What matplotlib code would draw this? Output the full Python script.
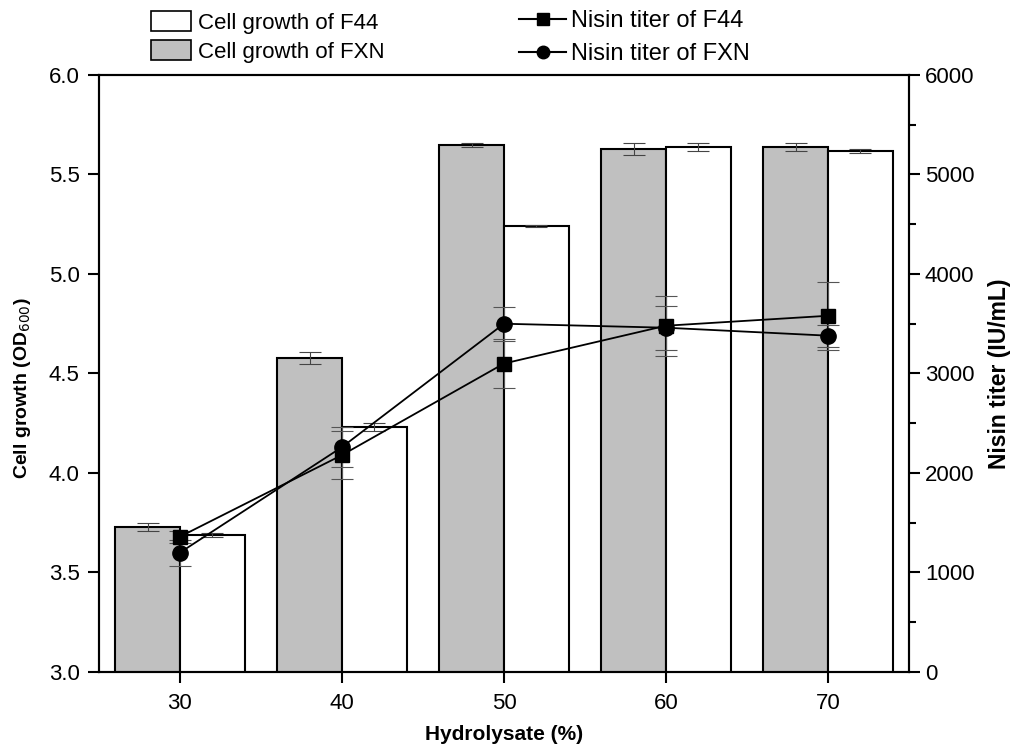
import numpy as np
import matplotlib.pyplot as plt
from matplotlib.ticker import MultipleLocator
from matplotlib.patches import Patch
from matplotlib.lines import Line2D

plt.rcParams['font.family'] = ['Liberation Sans', 'DejaVu Sans']

hydrolysate = [30, 40, 50, 60, 70]

# cell growth (OD600)
od_fxn = [3.73, 4.58, 5.65, 5.63, 5.64]
od_fxn_err = [0.02, 0.03, 0.01, 0.03, 0.02]
od_f44 = [3.69, 4.23, 5.24, 5.64, 5.62]
od_f44_err = [0.01, 0.02, 0.005, 0.02, 0.01]

# nisin titer (IU/mL)
nisin_f44 = [1360, 2180, 3100, 3480, 3580]
nisin_f44_err = [60, 240, 250, 300, 340]
nisin_fxn = [1200, 2260, 3500, 3460, 3380]
nisin_fxn_err = [130, 200, 170, 220, 110]

x = np.array(hydrolysate)
w = 4

fig = plt.figure(figsize=(10.14, 7.46), dpi=100)
ax = fig.add_axes([0.0976, 0.0992, 0.7988, 0.8003])

ax.bar(x - w / 2, od_fxn, w, color='#c0c0c0', edgecolor='black', linewidth=1.5, zorder=2)
ax.bar(x + w / 2, od_f44, w, color='white', edgecolor='black', linewidth=1.5, zorder=2)
ax.errorbar(x - w / 2, od_fxn, yerr=od_fxn_err, fmt='none', ecolor='#444444', elinewidth=0.8, capsize=8, capthick=0.8, zorder=3)
ax.errorbar(x + w / 2, od_f44, yerr=od_f44_err, fmt='none', ecolor='#444444', elinewidth=0.8, capsize=8, capthick=0.8, zorder=3)

ax.set_xlim(25, 75)
ax.set_ylim(3.0, 6.0)
ax.set_xticks(hydrolysate)
ax.yaxis.set_major_locator(MultipleLocator(0.5))
ax.set_xlabel('Hydrolysate (%)', fontsize=15, fontweight='bold', labelpad=8)
ax.set_ylabel('Cell growth (OD$_{600}$)', fontsize=14, fontweight='bold')
ax.yaxis.set_label_coords(-0.082, 0.475)
ax.tick_params(axis='both', labelsize=16, width=1.5, length=8, direction='out')
ax.tick_params(axis='x', top=False, pad=7)
ax.tick_params(axis='y', pad=6)
for s in ax.spines.values():
    s.set_linewidth(1.5)

ax2 = ax.twinx()
ax2.errorbar(x, nisin_f44, yerr=nisin_f44_err, fmt='none', ecolor='#555555', elinewidth=0.8, capsize=8, capthick=0.8, zorder=3)
ax2.errorbar(x, nisin_fxn, yerr=nisin_fxn_err, fmt='none', ecolor='#555555', elinewidth=0.8, capsize=8, capthick=0.8, zorder=3)
ax2.plot(x, nisin_f44, color='black', marker='s', markersize=10, linewidth=1.3, zorder=4)
ax2.plot(x, nisin_fxn, color='black', marker='o', markersize=11, linewidth=1.3, zorder=4)
ax2.set_ylim(0, 6000)
ax2.yaxis.set_major_locator(MultipleLocator(1000))
ax2.yaxis.set_minor_locator(MultipleLocator(500))
ax2.set_ylabel('Nisin titer (IU/mL)', fontsize=16.5, fontweight='bold', labelpad=10)
ax2.tick_params(axis='y', labelsize=16, width=1.5, length=8, direction='out')
ax2.tick_params(axis='y', which='minor', width=1.5, length=5)
for s in ax2.spines.values():
    s.set_linewidth(1.5)

bar_handles = [Patch(facecolor='white', edgecolor='black', linewidth=1.2),
               Patch(facecolor='#c0c0c0', edgecolor='black', linewidth=1.2)]
fig.legend(bar_handles, ['Cell growth of F44', 'Cell growth of FXN'],
           loc='upper left', bbox_to_anchor=(0.136, 1.003), frameon=False, fontsize=16,
           handlelength=1.8, handleheight=1.0, labelspacing=0.3, handletextpad=0.3,
           borderaxespad=0.2)
line_handles = [Line2D([], [], color='black', marker='s', markersize=8),
                Line2D([], [], color='black', marker='o', markersize=9)]
fig.legend(line_handles, ['Nisin titer of F44', 'Nisin titer of FXN'],
           loc='upper left', bbox_to_anchor=(0.498, 1.005), frameon=False, fontsize=17,
           handlelength=2.0, labelspacing=0.45, handletextpad=0.2, borderaxespad=0.2)

fig.savefig('out.png', dpi=100)
